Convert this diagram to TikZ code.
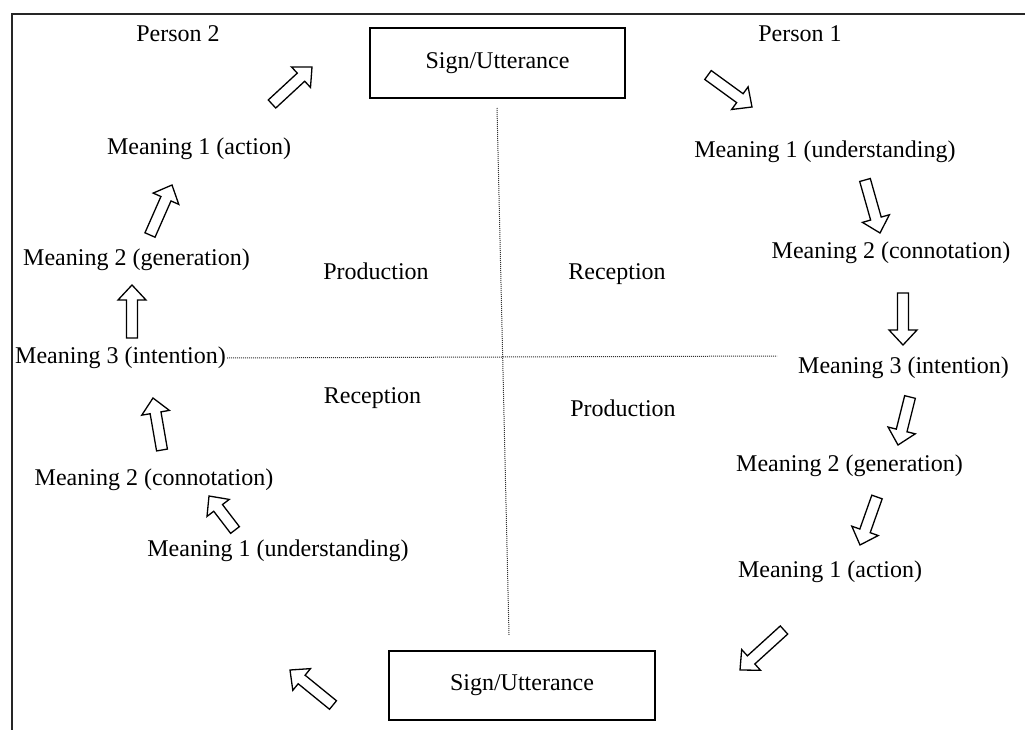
\documentclass[tikz,border=0pt]{standalone}
\usepackage{fontspec}
\setmainfont{Liberation Serif}
\usetikzlibrary{calc}

\tikzset{
  lbl/.style={anchor=base, inner sep=0pt, font=\fontsize{24}{28}\selectfont},
  signbox/.style={draw, line width=1.6pt, inner sep=0pt, font=\fontsize{24}{28}\selectfont},
  barrow/.style={draw, line width=1.3pt, fill=white, line join=miter},
  dotline/.style={densely dotted, line width=1pt, black!80},
  frameline/.style={line width=1.5pt, black!85},
}

% hollow block arrow from tail #1 to tip #2
\newcommand{\blockarrow}[2]{%
  \coordinate (bh) at ($(#2)!15pt!(#1)$);
  \draw[barrow]
    ($(#1)!5.5pt!90:(#2)$) -- ($(bh)!5.5pt!90:(#2)$) -- ($(bh)!14pt!90:(#2)$)
    -- (#2)
    -- ($(bh)!14pt!-90:(#2)$) -- ($(bh)!5.5pt!-90:(#2)$) -- ($(#1)!5.5pt!-90:(#2)$)
    -- cycle;}

\begin{document}
\begin{tikzpicture}[x=1pt, y=-1pt]
\useasboundingbox (0,0) rectangle (1025,730);

% frame (top and left edges)
\coordinate (fl) at (12,730);
\coordinate (fc) at (12,14);
\coordinate (fr) at (1025,14);
\draw[frameline] (fl) -- (fc) -- (fr);

% sign boxes
\node[signbox, minimum width=255pt, minimum height=70pt] (top) at (497.5,63) {Sign/Utterance};
\node[signbox, minimum width=266pt, minimum height=69pt] (bot) at (522,685.5) {Sign/Utterance};

% persons
\node[lbl] (p2) at (178,42) {Person 2};
\node[lbl] (p1) at (800,42) {Person 1};

% left column (Person 2)
\node[lbl] (l1a) at (199,155) {Meaning 1 (action)};
\node[lbl] (l2g) at (136.5,265) {Meaning 2 (generation)};
\node[lbl] (l3i) at (120.5,363) {Meaning 3 (intention)};
\node[lbl] (l2c) at (154,485) {Meaning 2 (connotation)};
\node[lbl] (l1u) at (278,556) {Meaning 1 (understanding)};

% right column (Person 1)
\node[lbl] (r1u) at (825,158) {Meaning 1 (understanding)};
\node[lbl] (r2c) at (891,258) {Meaning 2 (connotation)};
\node[lbl] (r3i) at (903.5,373) {Meaning 3 (intention)};
\node[lbl] (r2g) at (849.5,471) {Meaning 2 (generation)};
\node[lbl] (r1a) at (830,577) {Meaning 1 (action)};

% quadrant labels
\node[lbl] (qpl) at (376,279) {Production};
\node[lbl] (qrr) at (617,279) {Reception};
\node[lbl] (qrl) at (372.5,403) {Reception};
\node[lbl] (qpr) at (623,416) {Production};

% dotted axes
\coordinate (vt) at (497,108);
\coordinate (vb) at (509,635);
\coordinate (hl) at (227,358);
\coordinate (hr) at (777,356);
\draw[dotline] (vt) -- (vb);
\draw[dotline] (hl) -- (hr);

% arrows, Person 2 side
\coordinate (a0t) at (333,705); \coordinate (a0h) at (290,670);
\coordinate (a1t) at (235,530); \coordinate (a1h) at (209,496);
\coordinate (a2t) at (162,450); \coordinate (a2h) at (153,398);
\coordinate (a3t) at (132,338); \coordinate (a3h) at (132,285);
\coordinate (a4t) at (150,235); \coordinate (a4h) at (172,185);
\coordinate (a5t) at (272,104); \coordinate (a5h) at (312,67);
\blockarrow{a0t}{a0h}
\blockarrow{a1t}{a1h}
\blockarrow{a2t}{a2h}
\blockarrow{a3t}{a3h}
\blockarrow{a4t}{a4h}
\blockarrow{a5t}{a5h}

% arrows, Person 1 side
\coordinate (b1t) at (708,75);  \coordinate (b1h) at (752,107);
\coordinate (b2t) at (865,180); \coordinate (b2h) at (880,233);
\coordinate (b3t) at (903,293); \coordinate (b3h) at (903,345);
\coordinate (b4t) at (910,397); \coordinate (b4h) at (898,445);
\coordinate (b5t) at (877,497); \coordinate (b5h) at (860,545);
\coordinate (b6t) at (784,630); \coordinate (b6h) at (740,670);
\blockarrow{b1t}{b1h}
\blockarrow{b2t}{b2h}
\blockarrow{b3t}{b3h}
\blockarrow{b4t}{b4h}
\blockarrow{b5t}{b5h}
\blockarrow{b6t}{b6h}
\end{tikzpicture}
\end{document}
